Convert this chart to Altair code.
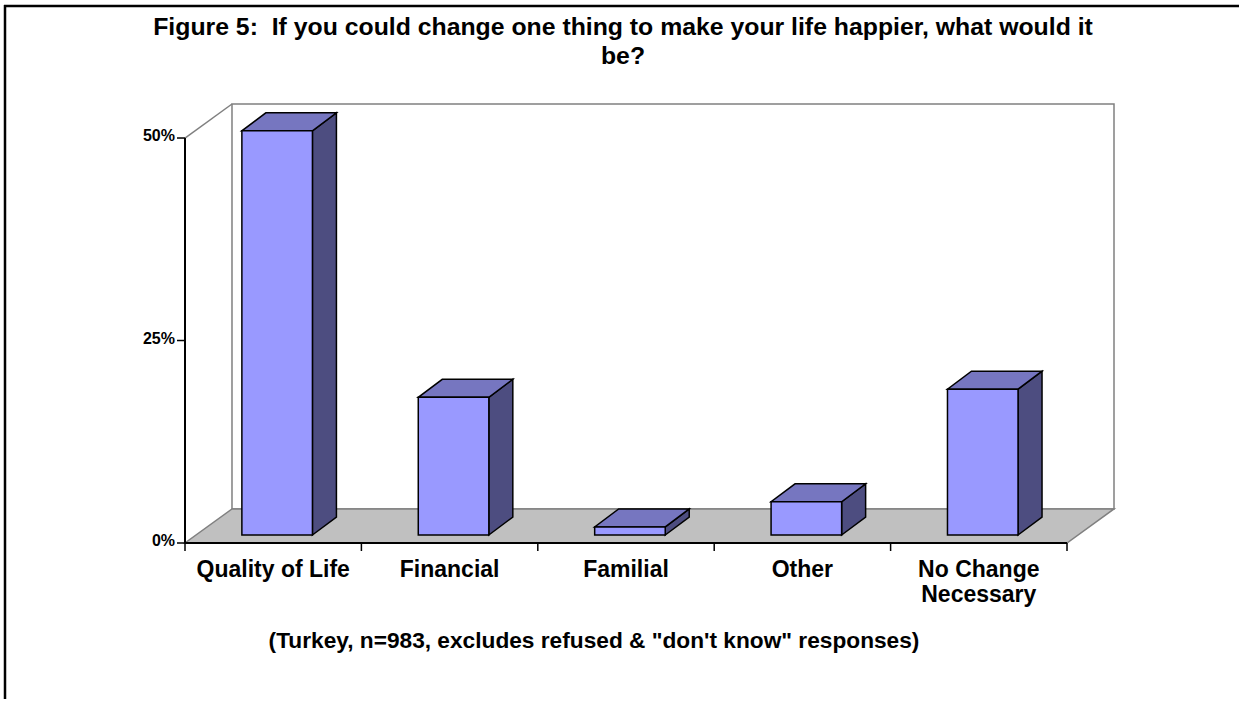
import altair as alt
import pandas as pd

# ---------------- data ----------------
categories = ["Quality of Life", "Financial", "Familial", "Other", "No Change Necessary"]
category_labels = ["Quality of Life", "Financial", "Familial", "Other", "No Change\nNecessary"]
values = [49.9, 17.0, 1.0, 4.1, 18.0]
y_ticks = [0, 25, 50]
y_tick_labels = ["0%", "25%", "50%"]
title_text = "Figure 5:\u00a0 If you could change one thing to make your life happier, what would it\nbe?"
subtitle_text = '(Turkey, n=983, excludes refused & "don\'t know" responses)'

# ---------------- geometry / style ----------------
N = len(categories)
Y_MAX = 50
WALL_DX, WALL_DY = 0.2664, 4.2          # depth of the 3-D box (category units, percent units)
BAR_L, BAR_R = 0.26, 0.66               # bar front face within its category band
FRONT_DX, FRONT_DY = 0.0624, 0.99       # bar front plane offset from the front of the floor
DEPTH_DX, DEPTH_DY = 0.136, 2.22        # bar depth
W, H = 929, 439
PAD_L, PAD_T = 185, 104
TOTAL_W, TOTAL_H = 1240, 700
FONT = "Liberation Sans"
FRONT_C, TOP_C, SIDE_C = "#9999FF", "#7676C0", "#4D4D80"

xs = alt.Scale(domain=[0, N + WALL_DX], nice=False, zero=False)
ys = alt.Scale(domain=[0, Y_MAX + WALL_DY], nice=False, zero=False)

front = pd.DataFrame({
    "cat": categories,
    "x": [i + BAR_L + FRONT_DX for i in range(N)],
    "x2": [i + BAR_R + FRONT_DX for i in range(N)],
    "y": [FRONT_DY] * N,
    "y2": [v + FRONT_DY for v in values],
})

side_rows, top_rows = [], []
for i, (c, v) in enumerate(zip(categories, values)):
    xl = i + BAR_L + FRONT_DX
    xr = i + BAR_R + FRONT_DX
    t = v + FRONT_DY
    side_rows += [
        {"cat": c, "x": xr, "lo": FRONT_DY, "hi": t},
        {"cat": c, "x": xr + DEPTH_DX, "lo": FRONT_DY + DEPTH_DY, "hi": t + DEPTH_DY},
    ]
    top_rows += [
        {"cat": c, "x": xl, "lo": t, "hi": t},
        {"cat": c, "x": xl + DEPTH_DX, "lo": t, "hi": t + DEPTH_DY},
        {"cat": c, "x": xr, "lo": t, "hi": t + DEPTH_DY},
        {"cat": c, "x": xr + DEPTH_DX, "lo": t + DEPTH_DY, "hi": t + DEPTH_DY},
    ]
side = pd.DataFrame(side_rows)
top = pd.DataFrame(top_rows)

floor = pd.DataFrame({
    "cat": ["floor"] * 4,
    "x": [0, WALL_DX, N, N + WALL_DX],
    "lo": [0, 0, 0, WALL_DY],
    "hi": [0, WALL_DY, WALL_DY, WALL_DY],
})
wall = pd.DataFrame({"x": [WALL_DX], "x2": [N + WALL_DX], "y": [WALL_DY], "y2": [Y_MAX + WALL_DY]})
left_edge = pd.DataFrame({"x": [0], "x2": [WALL_DX], "y": [Y_MAX], "y2": [Y_MAX + WALL_DY]})
axes_df = pd.DataFrame({"x": [0, 0], "x2": [0, N], "y": [0, 0], "y2": [Y_MAX, 0]})
one = pd.DataFrame({"a": [0], "title": [title_text], "sub": [subtitle_text]})
# outer frame (pixel offsets from the plot origin): top edge and left edge only
frame_df = pd.DataFrame({
    "px": [5 - PAD_L - 1, 5 - PAD_L],
    "px2": [TOTAL_W - PAD_L - 1, 5 - PAD_L],
    "py": [6 - PAD_T, 6 - PAD_T - 1],
    "py2": [6 - PAD_T, TOTAL_H - PAD_T - 1],
})
yt = pd.DataFrame({"v": y_ticks, "lab": y_tick_labels})
xt = pd.DataFrame({"v": list(range(N + 1))})
xl_df = pd.DataFrame({"c": [i + 0.5 for i in range(N)], "lab": category_labels})


def area_layer(df, fill, stroke, sw):
    return alt.Chart(df).mark_area(
        fill=fill, stroke=stroke, strokeWidth=sw, orient="vertical", interpolate="linear",
        fillOpacity=1, strokeJoin="miter",
    ).encode(
        x=alt.X("x:Q", scale=xs, axis=None),
        y=alt.Y("lo:Q", scale=ys, axis=None),
        y2="hi:Q",
        detail="cat:N",
    )


def seg(df, color, sw):
    return alt.Chart(df).mark_rule(color=color, strokeWidth=sw).encode(
        x=alt.X("x:Q", scale=xs, axis=None), x2="x2:Q",
        y=alt.Y("y:Q", scale=ys, axis=None), y2="y2:Q",
    )


frame_l = alt.Chart(frame_df).mark_rule(color="black", strokeWidth=2.5).encode(
    x=alt.X("px:Q", scale=None, axis=None), x2="px2:Q",
    y=alt.Y("py:Q", scale=None, axis=None), y2="py2:Q",
)

wall_l = alt.Chart(wall).mark_rect(fill="white", stroke="#808080", strokeWidth=1.5).encode(
    x=alt.X("x:Q", scale=xs, axis=None), x2="x2:Q",
    y=alt.Y("y:Q", scale=ys, axis=None), y2="y2:Q",
)
floor_l = area_layer(floor, "#C0C0C0", "#808080", 1.5)
left_l = seg(left_edge, "#808080", 1.5)
axes_l = seg(axes_df, "black", 2)

yticks = alt.Chart(yt).mark_rule(color="black", strokeWidth=1.5).encode(
    y=alt.Y("v:Q", scale=ys, axis=None), x=alt.value(-8), x2=alt.value(0)
)
ylabels = alt.Chart(yt).mark_text(
    align="right", baseline="middle", font=FONT, fontSize=16, fontWeight="bold", dx=-10, dy=-2,
    color="black"
).encode(y=alt.Y("v:Q", scale=ys, axis=None), x=alt.value(0), text="lab:N")
xticks = alt.Chart(xt).mark_rule(color="black", strokeWidth=1.5).encode(
    x=alt.X("v:Q", scale=xs, axis=None), y=alt.value(H), y2=alt.value(H + 8)
)
xlabels = alt.Chart(xl_df).mark_text(
    align="center", baseline="alphabetic", font=FONT, fontSize=23, fontWeight="bold",
    lineBreak="\n", lineHeight=25, color="black"
).encode(x=alt.X("c:Q", scale=xs, axis=None), y=alt.value(H + 34), text="lab:N")

side_l = area_layer(side, SIDE_C, "black", 1.5)
top_l = area_layer(top, TOP_C, "black", 1.5)
front_l = alt.Chart(front).mark_rect(fill=FRONT_C, stroke="black", strokeWidth=1.5).encode(
    x=alt.X("x:Q", scale=xs, axis=None), x2="x2:Q",
    y=alt.Y("y:Q", scale=ys, axis=None), y2="y2:Q",
)

title_l = alt.Chart(one).mark_text(
    align="center", baseline="alphabetic", font=FONT, fontSize=24.8, fontWeight="bold",
    lineBreak="\n", lineHeight=29, color="black"
).encode(x=alt.value(438), y=alt.value(-69), text="title:N")
subtitle_l = alt.Chart(one).mark_text(
    align="center", baseline="alphabetic", font=FONT, fontSize=22.7, fontWeight="bold", color="black"
).encode(x=alt.value(409), y=alt.value(H + 105), text="sub:N")

chart = alt.layer(
    frame_l, wall_l, floor_l, left_l, axes_l, yticks, ylabels, xticks, xlabels,
    side_l, top_l, front_l, title_l, subtitle_l,
).properties(
    width=W, height=H, autosize="none",
    padding={"left": PAD_L, "top": PAD_T, "right": TOTAL_W - PAD_L - W, "bottom": TOTAL_H - PAD_T - H},
    background="white",
).resolve_scale(x="independent", y="independent").configure_view(stroke=None)

chart.save("out.html", embed_options={"renderer": "svg", "actions": False})
